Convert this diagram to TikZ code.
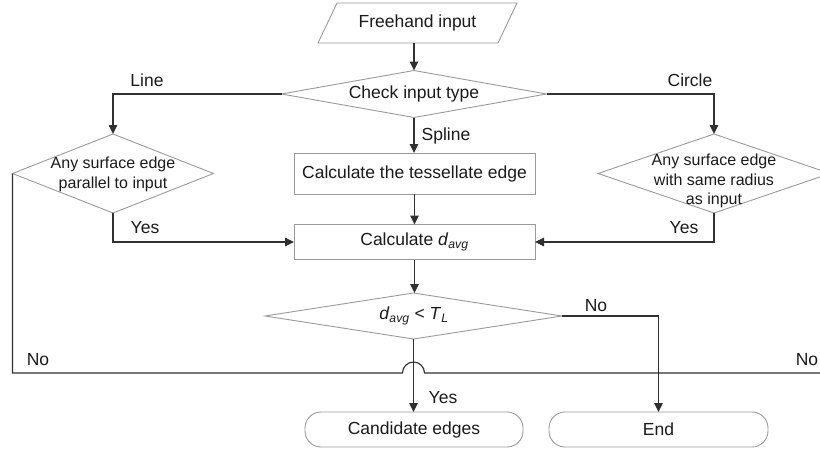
\documentclass[tikz,border=0pt]{standalone}
\usepackage{fontspec}
\setmainfont{Liberation Sans}
\usetikzlibrary{shapes.geometric,arrows.meta}
\definecolor{shapegray}{HTML}{9A9A9A}
\definecolor{linegray}{HTML}{303030}
\definecolor{txtgray}{HTML}{1A1A1A}
\tikzset{
  box/.style={draw=shapegray, line width=0.9pt, text=txtgray, inner sep=0pt, outer sep=0pt,
    font=\fontsize{17.5}{20}\selectfont},
  term/.style={box, rectangle, rounded corners=16pt, minimum width=218pt, minimum height=35pt},
  proc/.style={box, rectangle, minimum width=241pt},
  txt/.style={text=txtgray, inner sep=0pt, font=\fontsize{17.5}{20}\selectfont, align=center},
  stxt/.style={text=txtgray, inner sep=0pt, font=\fontsize{16}{19.5}\selectfont, align=center},
  conn/.style={draw=linegray, line width=1.15pt},
  arr/.style={conn, -{Triangle[length=9pt,width=8.5pt]}},
}
\begin{document}
\begin{tikzpicture}[x=1pt,y=1pt]
\useasboundingbox (0,0) rectangle (820,-450);
\clip (0,0) rectangle (820,-450);
% nodes
\node[rectangle, inner sep=0pt, outer sep=0pt, minimum width=180pt, minimum height=40pt] (in) at (417.5,-23) {};
\draw[draw=shapegray, line width=0.9pt] ([xshift=-9.5pt]in.south west) -- ([xshift=9.5pt]in.north west)
  -- ([xshift=9.5pt]in.north east) -- ([xshift=-9.5pt]in.south east) -- cycle;
\node[txt] (intxt) at (417.5,-23) {Freehand input};
\node[box, diamond, minimum width=265pt, minimum height=47pt] (chk) at (414,-94) {};
\node[txt] (chktxt) at (414,-94) {Check input type};
\node[box, diamond, minimum width=201pt, minimum height=79pt] (l) at (113,-173.5) {};
\node[stxt] (ltxt) at (113,-174.5) {Any surface edge\\parallel to input};
\node[box, diamond, minimum width=232pt, minimum height=79pt] (r) at (714,-173.5) {};
\node[stxt] (rtxt) at (714,-181) {Any surface edge\\with same radius\\as input};
\node[proc, minimum height=41pt] (tes) at (414.5,-173.5) {};
\node[txt] (testxt) at (414.5,-174) {Calculate the tessellate edge};
\node[proc, minimum height=35pt] (calc) at (414.5,-242) {};
\node[txt] (calctxt) at (414.5,-242) {Calculate \textit{d}\textsubscript{\textit{avg}}};
\node[box, diamond, minimum width=297pt, minimum height=46pt] (cmp) at (413.5,-316) {};
\node[txt] (cmptxt) at (414,-316) {\textit{d}\textsubscript{\textit{avg}} < \textit{T}\textsubscript{\textit{L}}};
\node[term] (cand) at (414,-429.5) {};
\node[txt] (candtxt) at (414,-429.5) {Candidate edges};
\node[term, minimum width=219pt] (end) at (658.5,-429.5) {};
\node[txt] (endtxt) at (658.5,-429.5) {End};
% connectors
\draw[arr] (in.south -| chk.north) -- (chk.north);
\draw[arr] (chk.west) -| (l.north);
\draw[arr] (chk.east) -| (r.north);
\draw[arr] (chk.south) -- (tes.north -| chk.south);
\draw[arr] (tes.south -| calc.north) -- (calc.north);
\draw[arr] (l.south) |- (calc.west);
\draw[arr] (r.south) |- (calc.east);
\draw[arr] (calc.south) -- (cmp.north -| calc.south);
\draw[arr] (cmp.south) -- (cand.north -| cmp.south);
\draw[arr] (cmp.east) -| (end.north);
\coordinate (jl) at (402.5,-373);
\draw[conn] (l.west) |- (jl) arc[start angle=180, end angle=0, radius=11] -- (r.east |- jl) -- (r.east);
% labels
\node[txt] (lline) at (147,-80) {Line};
\node[txt] (lcircle) at (690,-80) {Circle};
\node[txt] (lspline) at (446,-136) {Spline};
\node[txt] (lyes1) at (145,-228) {Yes};
\node[txt] (lyes2) at (684,-228) {Yes};
\node[txt] (lno1) at (596,-306) {No};
\node[txt] (lyes3) at (443,-398) {Yes};
\node[txt] (lno2) at (38,-360) {No};
\node[txt] (lno3) at (807,-360) {No};
\end{tikzpicture}
\end{document}
